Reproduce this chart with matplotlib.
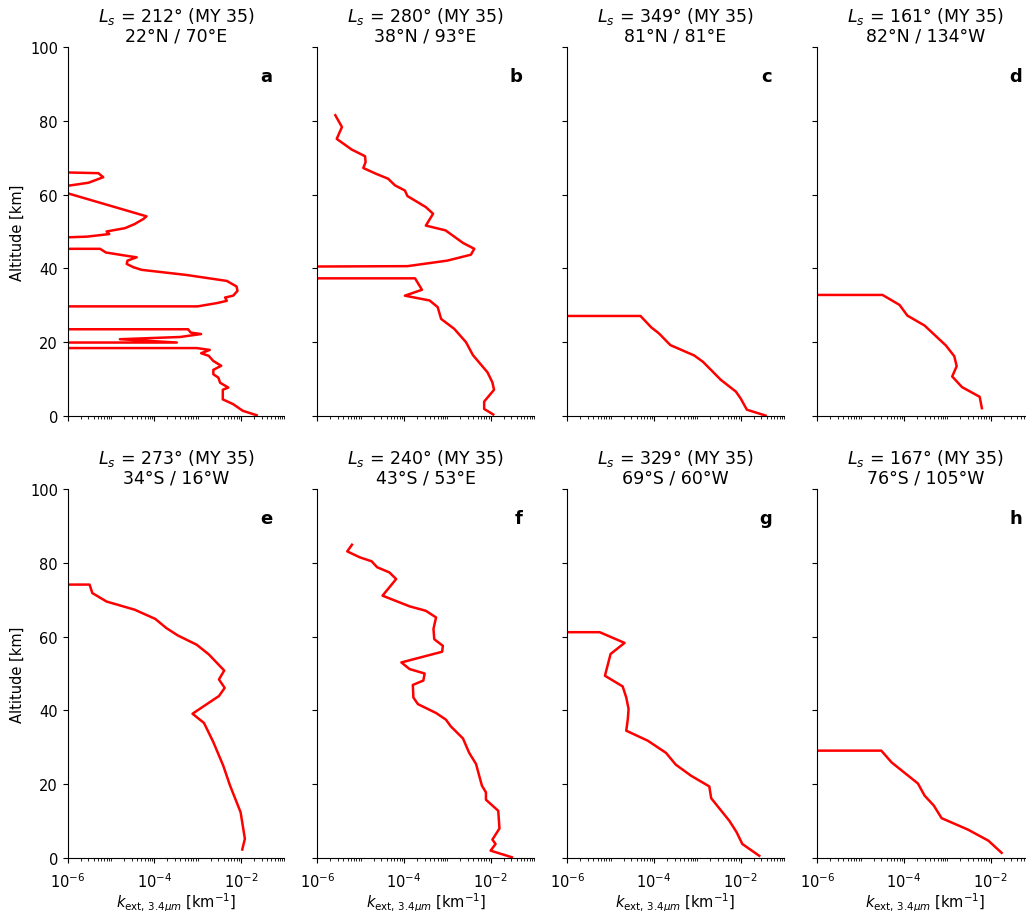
#!/usr/bin/env python
# -*- coding: utf-8 -*-

# Extinction profiles k_ext(3.4 um) vs altitude, 8 panels

import matplotlib
matplotlib.use("Agg")
import matplotlib.pyplot as plt
from matplotlib.ticker import LogLocator, NullFormatter, FixedLocator
import numpy as np

# Value just below the axis range, used where the profile drops to zero
EDGE = 9e-7

# ==============================================================
# Data (altitude in km, extinction in km-1)
# ==============================================================

panel_letters = ["a", "b", "c", "d", "e", "f", "g", "h"]
ls_values = [212, 280, 349, 161, 273, 240, 329, 167]
locations = ["22°N / 70°E", "38°N / 93°E", "81°N / 81°E", "82°N / 134°W",
             "34°S / 16°W", "43°S / 53°E", "69°S / 60°W", "76°S / 105°W"]

alt_a = [66.0, 65.8, 64.7, 63.2, 62.3, 60.5, 54.1, 53.4, 52.0, 50.9, 50.0,
         49.3, 48.6, 48.4, 45.3, 45.3, 44.3, 43.4, 43.0, 42.1, 41.2, 40.3,
         39.6, 38.2, 36.6, 35.1, 33.9, 32.6, 32.1, 31.2, 30.6, 29.7, 29.7,
         23.5, 23.5, 22.6, 22.2, 21.4, 20.8, 19.9, 19.9, 18.4, 18.4, 17.9,
         17.0, 16.3, 14.9, 13.6, 12.5, 11.3, 10.4, 9.0, 7.7, 7.1, 4.5, 3.2,
         1.4, 0.2]
k_a = [EDGE, 5.1e-6, 6.6e-6, 3.0e-6, EDGE, EDGE, 6.6e-5, 5.6e-5, 3.5e-5,
       2.1e-5, 7.9e-6, 9.1e-6, 2.8e-6, EDGE, EDGE, 5.6e-6, 7.6e-6, 2.3e-5,
       3.9e-5, 2.4e-5, 2.3e-5, 3.3e-5, 5.1e-5, 5.6e-4, 4.7e-3, 7.9e-3,
       8.3e-3, 6.6e-3, 4.3e-3, 4.7e-3, 2.8e-3, 1.0e-3, EDGE, EDGE, 6.0e-4,
       6.9e-4, 1.2e-3, 3.9e-4, 1.6e-5, 3.3e-4, EDGE, EDGE, 9.5e-4, 1.9e-3,
       1.2e-3, 1.8e-3, 2.3e-3, 3.5e-3, 2.3e-3, 2.3e-3, 3.0e-3, 3.3e-3,
       5.1e-3, 3.8e-3, 3.8e-3, 6.6e-3, 1.1e-2, 2.3e-2]

alt_b = [81.5, 78.3, 75.1, 72.2, 70.4, 68.8, 67.2, 65.6, 64.3, 62.5, 61.1,
         59.6, 56.6, 54.8, 51.6, 50.3, 46.9, 45.3, 43.7, 42.1, 40.6, 40.5,
         37.3, 37.3, 34.2, 32.6, 31.3, 29.5, 26.3, 23.6, 20.0, 16.5, 11.8,
         9.1, 7.1, 3.9, 1.9, 0.4]
k_b = [2.6e-6, 3.7e-6, 2.8e-6, 6.2e-6, 1.26e-5, 1.3e-5, 1.15e-5, 2.3e-5,
       4.3e-5, 6.2e-5, 1.05e-4, 1.2e-4, 3.2e-4, 4.7e-4, 3.2e-4, 9.1e-4,
       2.3e-3, 4.2e-3, 3.5e-3, 1.0e-3, 1.2e-4, EDGE, EDGE, 1.8e-4, 2.6e-4,
       1.05e-4, 3.9e-4, 6.0e-4, 7.2e-4, 1.45e-3, 2.7e-3, 3.9e-3, 8.5e-3,
       1.1e-2, 1.2e-2, 7.1e-3, 7.1e-3, 1.15e-2]

alt_c = [27.1, 27.1, 24.0, 22.4, 19.2, 16.4, 14.7, 9.8, 6.6, 4.8, 1.7, 0.1]
k_c = [EDGE, 4.9e-5, 8.7e-5, 1.3e-4, 2.4e-4, 8.5e-4, 1.35e-3, 3.5e-3,
       7.8e-3, 1.0e-2, 1.4e-2, 3.8e-2]

alt_d = [32.8, 32.8, 30.1, 27.2, 24.5, 19.1, 16.2, 13.5, 10.7, 7.8, 5.2, 2.1]
k_d = [EDGE, 3.2e-5, 7.9e-5, 1.2e-4, 3.0e-4, 9.3e-4, 1.45e-3, 1.65e-3,
       1.3e-3, 2.2e-3, 5.6e-3, 6.3e-3]

alt_e = [74.1, 74.1, 71.8, 69.5, 67.3, 64.8, 62.3, 60.3, 57.8, 55.2, 50.8,
         48.4, 46.1, 43.9, 39.1, 36.6, 31.4, 25.0, 19.6, 12.4, 5.2, 2.3]
k_e = [EDGE, 3.2e-6, 3.7e-6, 7.9e-6, 3.5e-5, 1.05e-4, 1.9e-4, 3.5e-4,
       9.5e-4, 1.8e-3, 4.1e-3, 3.1e-3, 4.2e-3, 3.1e-3, 7.6e-4, 1.4e-3,
       2.3e-3, 3.9e-3, 5.6e-3, 9.8e-3, 1.23e-2, 1.07e-2]

alt_f = [84.9, 83.1, 81.5, 80.4, 78.8, 77.4, 75.6, 71.1, 68.2, 67.0, 65.2,
         62.1, 59.3, 57.5, 55.9, 53.0, 51.2, 50.0, 48.1, 46.9, 43.5, 41.7,
         39.3, 37.5, 35.7, 32.4, 28.5, 25.5, 19.6, 17.8, 15.8, 12.8, 8.0,
         5.0, 3.8, 2.0, 0.2]
k_f = [6.3e-6, 4.9e-6, 9.5e-6, 1.8e-5, 2.4e-5, 4.6e-5, 6.6e-5, 3.2e-5,
       1.35e-4, 3.2e-4, 5.5e-4, 4.8e-4, 5.0e-4, 7.9e-4, 7.6e-4, 8.7e-5,
       1.35e-4, 3.0e-4, 2.8e-4, 1.6e-4, 1.65e-4, 2.1e-4, 5.5e-4, 9.3e-4,
       1.2e-3, 2.3e-3, 3.2e-3, 4.6e-3, 6.3e-3, 7.8e-3, 7.8e-3, 1.5e-2,
       1.6e-2, 1.1e-2, 1.3e-2, 1.0e-2, 3.1e-2]

alt_g = [61.2, 61.2, 58.3, 55.3, 49.4, 46.5, 43.5, 40.4, 37.7, 34.5, 31.8,
         28.5, 25.3, 22.3, 19.4, 16.2, 10.1, 7.0, 3.8, 0.6]
k_g = [EDGE, 5.6e-6, 2.1e-5, 1.0e-5, 7.4e-6, 1.9e-5, 2.3e-5, 2.6e-5,
       2.5e-5, 2.3e-5, 7.2e-5, 1.9e-4, 3.2e-4, 7.2e-4, 1.9e-3, 2.1e-3,
       5.5e-3, 8.1e-3, 1.1e-2, 2.7e-2]

alt_h = [29.1, 29.1, 25.9, 20.2, 16.9, 14.2, 10.8, 7.7, 4.7, 1.4]
k_h = [EDGE, 3.0e-5, 5.2e-5, 2.1e-4, 3.0e-4, 4.9e-4, 7.4e-4, 3.0e-3,
       8.9e-3, 1.8e-2]

altitudes = [alt_a, alt_b, alt_c, alt_d, alt_e, alt_f, alt_g, alt_h]
extinctions = [k_a, k_b, k_c, k_d, k_e, k_f, k_g, k_h]

# ==============================================================
# Plot
# ==============================================================

fig = plt.figure(figsize=(10.26, 9.12), dpi=100)

lefts = [0.066, 0.3093, 0.5529, 0.7966]
bottoms = [0.5428, 0.0581]
width = 0.2111
height = 0.4046

for i in range(8):
    row, col = divmod(i, 4)
    ax = fig.add_axes([lefts[col], bottoms[row], width, height])
    ax.plot(extinctions[i], altitudes[i], color="red", lw=1.8)
    ax.set_xscale("log")
    ax.set_xlim(1e-6, 1e-1)
    ax.set_ylim(0, 100)
    ax.spines["top"].set_visible(False)
    ax.spines["right"].set_visible(False)

    # Ticks
    ax.xaxis.set_major_locator(FixedLocator([1e-6, 1e-4, 1e-2]))
    ax.xaxis.set_minor_locator(LogLocator(base=10, subs=np.arange(1, 10),
                                          numticks=20))
    ax.xaxis.set_minor_formatter(NullFormatter())
    ax.set_yticks([0, 20, 40, 60, 80, 100])
    ax.tick_params(axis="both", which="major", labelsize=10.5)
    ax.tick_params(axis="x", which="major", pad=6)
    if col > 0:
        ax.tick_params(axis="y", labelleft=False)
    else:
        ax.set_ylabel("Altitude [km]", fontsize=10.5)
    if row == 0:
        ax.tick_params(axis="x", labelbottom=False)
    else:
        ax.set_xlabel(r"$k_{\mathrm{ext,\,3.4}\mu m}$ [km$^{-1}$]",
                      fontsize=10.5, labelpad=0.5)

    # Title and panel letter
    title = r"$L_s$ = {0}° (MY 35)".format(ls_values[i]) + "\n" + locations[i]
    ax.set_title(title, fontsize=12.5, linespacing=1.0, pad=5)
    ax.text(0.945, 0.945, panel_letters[i], transform=ax.transAxes,
            ha="right", va="top", fontsize=13, fontweight="bold")

fig.savefig("out.png", dpi=100)
plt.close(fig)

# End
